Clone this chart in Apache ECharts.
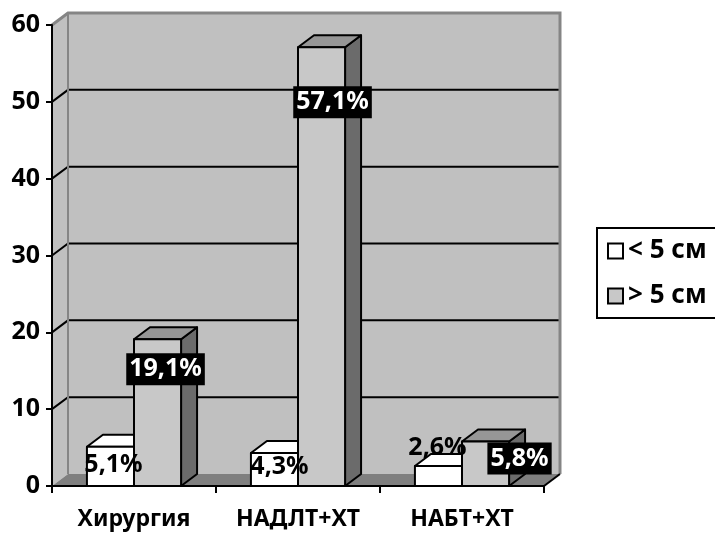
<!DOCTYPE html>
<html>
<head>
<meta charset="utf-8">
<script src="https://cdn.jsdelivr.net/npm/echarts@6/dist/echarts.min.js"></script>
<style>
  html, body { margin: 0; padding: 0; background: #fff; }
  #chart { width: 715px; height: 533px; }
</style>
</head>
<body>
<div id="chart"></div>
<script>
// Tumour size by treatment group, share of patients (%)
const categories = ['Хирургия', 'НАДЛТ+ХТ', 'НАБТ+ХТ'];
const seriesNames = ['< 5 см', '> 5 см'];
const smallTumour = [5.1, 4.3, 2.6];
const largeTumour = [19.1, 57.1, 5.8];
const valueTicks = [0, 10, 20, 30, 40, 50, 60];

// pseudo-3D look
const DEPTH_X = 16;
const DEPTH_Y = 12;
const BAR_SHARE = 0.287;   // bar width as share of the category band
const FONT = '"Noto Sans", "DejaVu Sans", sans-serif';

// per-group face colours
const faceStyles = [
  { front: '#ffffff', top: '#ffffff', side: '#a0a0a0' },
  { front: '#c8c8c8', top: '#969696', side: '#6b6b6b' }
];
// label look: plain dark text for the small group, white on black for the large group
const labelLooks = [
  { fill: '#000', backgroundColor: null },
  { fill: '#fff', backgroundColor: '#000' }
];
// label centre shift from the top-centre of each bar's front face (px)
const labelShift = [
  [[3, 18], [5, 14], [-1, -18]],
  [[8, 30], [11, 55], [34, 17]]
];

function fmt(v) {
  return v.toFixed(1).replace('.', ',') + '%';
}

function renderWalls(params, api) {
  const band = api.size([1, 0])[0];
  const left = api.coord([0, 0])[0] - band / 2;
  const right = api.coord([categories.length - 1, 0])[0] + band / 2;
  const maxV = valueTicks[valueTicks.length - 1];
  const y0 = api.coord([0, 0])[1];
  const yTop = api.coord([0, maxV])[1];
  const children = [];
  // side wall
  children.push({
    type: 'polygon',
    shape: { points: [[left, yTop], [left + DEPTH_X, yTop - DEPTH_Y], [left + DEPTH_X, y0 - DEPTH_Y], [left, y0]] },
    style: { fill: '#c0c0c0', stroke: null }
  });
  // back wall
  children.push({
    type: 'rect',
    shape: { x: left + DEPTH_X, y: yTop - DEPTH_Y, width: right - left, height: y0 - yTop },
    style: { fill: '#c0c0c0', stroke: null }
  });
  // floor
  children.push({
    type: 'polygon',
    shape: { points: [[left, y0], [right, y0], [right + DEPTH_X, y0 - DEPTH_Y], [left + DEPTH_X, y0 - DEPTH_Y]] },
    style: { fill: '#7f7f7f', stroke: null }
  });
  // grid lines on side and back walls
  valueTicks.forEach(function (v) {
    if (v === 0 || v === maxV) return;
    const y = api.coord([0, v])[1];
    children.push({
      type: 'polyline',
      shape: { points: [[left, y], [left + DEPTH_X, y - DEPTH_Y], [right + DEPTH_X, y - DEPTH_Y]] },
      style: { stroke: '#000', lineWidth: 2, fill: null }
    });
  });
  // wall outline
  children.push({
    type: 'polyline',
    shape: { points: [[left, yTop], [left + DEPTH_X, yTop - DEPTH_Y], [right + DEPTH_X, yTop - DEPTH_Y], [right + DEPTH_X, y0 - DEPTH_Y]] },
    style: { stroke: '#858585', lineWidth: 3, fill: null }
  });
  children.push({
    type: 'line',
    shape: { x1: left + DEPTH_X, y1: yTop - DEPTH_Y, x2: left + DEPTH_X, y2: y0 - DEPTH_Y },
    style: { stroke: '#858585', lineWidth: 2 }
  });
  // floor right edge
  children.push({
    type: 'line',
    shape: { x1: right, y1: y0, x2: right + DEPTH_X, y2: y0 - DEPTH_Y },
    style: { stroke: '#000', lineWidth: 2 }
  });
  return { type: 'group', children: children };
}

function makeBarRenderer(groupIndex) {
  return function (params, api) {
    const idx = api.value(0);
    const val = api.value(1);
    const band = api.size([1, 0])[0];
    const barW = band * BAR_SHARE;
    const base = api.coord([idx, 0]);
    const top = api.coord([idx, val]);
    const x0 = groupIndex === 0 ? base[0] - barW : base[0];
    const yB = base[1];
    const yT = top[1];
    const c = faceStyles[groupIndex];
    const edge = { stroke: '#000', lineWidth: 2, lineJoin: 'round' };
    const look = labelLooks[groupIndex];
    const shift = labelShift[groupIndex][params.dataIndex];
    const textStyle = {
      text: fmt(val),
      align: 'center',
      verticalAlign: 'middle',
      font: 'bold 25px ' + FONT,
      fill: look.fill
    };
    if (look.backgroundColor) {
      textStyle.backgroundColor = look.backgroundColor;
      textStyle.padding = [4, 3, 3, 3];
    }
    return {
      type: 'group',
      children: [
        {
          type: 'polygon',
          shape: { points: [[x0 + barW, yT], [x0 + barW + DEPTH_X, yT - DEPTH_Y], [x0 + barW + DEPTH_X, yB - DEPTH_Y], [x0 + barW, yB]] },
          style: Object.assign({ fill: c.side }, edge)
        },
        {
          type: 'polygon',
          shape: { points: [[x0, yT], [x0 + DEPTH_X, yT - DEPTH_Y], [x0 + barW + DEPTH_X, yT - DEPTH_Y], [x0 + barW, yT]] },
          style: Object.assign({ fill: c.top }, edge)
        },
        {
          type: 'rect',
          shape: { x: x0, y: yT, width: barW, height: yB - yT },
          style: Object.assign({ fill: c.front }, edge)
        },
        {
          type: 'text',
          z2: 100,
          x: x0 + barW / 2 + shift[0],
          y: yT + shift[1],
          style: textStyle
        }
      ]
    };
  };
}

const chart = echarts.init(document.getElementById('chart'), null, { renderer: 'canvas' });
chart.setOption({
  backgroundColor: '#ffffff',
  animation: false,
  grid: { left: 52, right: 171, top: 25, bottom: 47 },
  // legend frame runs past the right edge of the canvas
  graphic: [
    {
      type: 'rect',
      shape: { x: 597, y: 228, width: 140, height: 90 },
      style: { fill: 'none', stroke: '#000', lineWidth: 2 },
      silent: true
    }
  ],
  legend: {
    orient: 'vertical',
    left: 597,
    top: 228,
    padding: [10, 10, 8, 10],
    itemGap: 19,
    itemWidth: 15,
    itemHeight: 15,
    selectedMode: false,
    textStyle: { fontFamily: FONT, fontWeight: 'bold', fontSize: 26, color: '#000' },
    data: [
      { name: seriesNames[0], icon: 'rect', itemStyle: { color: faceStyles[0].front, borderColor: '#000', borderWidth: 2 } },
      { name: seriesNames[1], icon: 'rect', itemStyle: { color: faceStyles[1].front, borderColor: '#000', borderWidth: 2 } }
    ]
  },
  xAxis: {
    type: 'category',
    data: categories,
    boundaryGap: true,
    axisLine: { show: true, lineStyle: { color: '#000', width: 2 } },
    axisTick: { show: true, length: 7, lineStyle: { color: '#000', width: 2 } },
    axisLabel: { color: '#000', fontFamily: FONT, fontWeight: 'bold', fontSize: 23, margin: 22 },
    splitLine: { show: false },
    z: 10
  },
  yAxis: {
    type: 'value',
    min: valueTicks[0],
    max: valueTicks[valueTicks.length - 1],
    interval: 10,
    axisLine: { show: true, lineStyle: { color: '#000', width: 2 } },
    axisTick: { show: true, length: 6, lineStyle: { color: '#000', width: 2 } },
    axisLabel: { color: '#000', fontFamily: FONT, fontWeight: 'bold', fontSize: 25, margin: 12 },
    splitLine: { show: false },
    z: 10
  },
  series: [
    {
      type: 'custom',
      name: 'walls',
      silent: true,
      clip: false,
      z: 1,
      renderItem: renderWalls,
      data: [[0, 0]]
    },
    {
      type: 'custom',
      name: seriesNames[0],
      silent: true,
      clip: false,
      z: 2,
      renderItem: makeBarRenderer(0),
      data: categories.map(function (c, i) { return [i, smallTumour[i]]; })
    },
    {
      type: 'custom',
      name: seriesNames[1],
      silent: true,
      clip: false,
      z: 2,
      renderItem: makeBarRenderer(1),
      data: categories.map(function (c, i) { return [i, largeTumour[i]]; })
    }
  ]
});
</script>
</body>
</html>
